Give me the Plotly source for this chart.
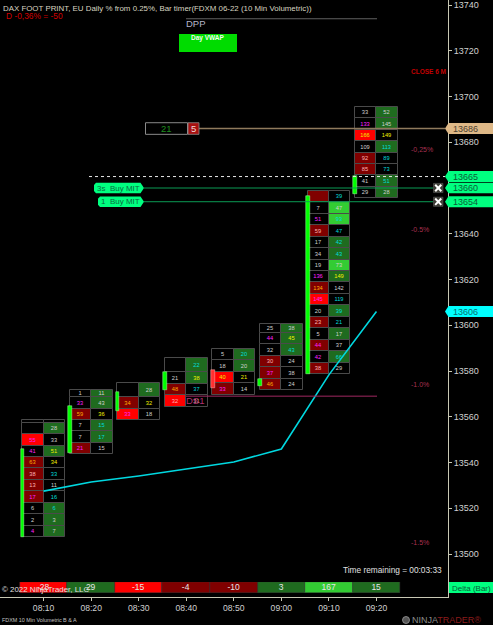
import plotly.graph_objects as go

W, H = 493, 625
FONT = "Liberation Sans"

# ---------- data ----------
TIMES = ["08:10", "08:20", "08:30", "08:40", "08:50", "09:00", "09:10", "09:20"]
PRICE_TICKS = [13500, 13520, 13540, 13560, 13580, 13600, 13620, 13640, 13660, 13680, 13700, 13720, 13740]

ROW_STEP = 5
LOWS = [13507.4, 13543.6, 13558.6, 13564.4, 13569.6, 13571.6, 13578.7, 13655.5]
HIGHS = [13558.6, 13571.7, 13574.6, 13585.6, 13589.5, 13600.5, 13658.8, 13695.3]
OPENS = [13507.4, 13544.3, 13562.5, 13571.7, 13580.4, 13573.4, 13578.7, 13657.4]
CLOSES = [13545.9, 13564.7, 13570.8, 13579.6, 13572.6, 13576.6, 13656.5, 13665.2]

BID = [
    [None, None, 55, 41, 63, 38, 13, 17, 6, 2, 4],
    [1, 33, 59, 7, 7, 21],
    [None, 34, 33],
    [None, 21, 48, 32],
    [5, 18, 40, 33],
    [25, 44, 32, 30, 37, 46],
    [None, 7, 51, 59, 17, 34, 19, 136, 134, 145, 20, 23, 5, 44, 42, 38],
    [33, 133, 166, 109, 92, 85, 41, 29],
]
ASK = [
    [None, 28, 33, 51, 34, 33, 11, 16, 6, 3, 7],
    [11, 43, 36, 15, 17, 15],
    [28, 32, 18],
    [22, 38, 37, 31],
    [20, 20, 21, 14],
    [38, 45, 43, 24, 38, 24],
    [39, 47, 93, 47, 42, 43, 73, 149, 142, 119, 39, 21, 17, 37, 66, 29],
    [52, 145, 149, 113, 89, 73, 51, 28],
]
DELTA = [-28, 29, -15, -4, -10, 3, 167, 15]
VWAP = [13527.5, 13531.5, 13534.1, 13537.2, 13540.2, 13545.9, 13578.3, 13606.0]

LEVEL_DPP = 13734
LEVEL_DS1 = 13569
LEVEL_POS = 13686
LEVEL_DOT = 13665
LEVEL_MIT3 = 13660
LEVEL_MIT1 = 13654
LEVEL_VWAP = 13606

# ---------- cell styles ----------
BID_FILL = ["nnrnddddnnn", "nndnnd", "ndr", "nndr", "nnrd", "nnnddd", "dnndnnnndrndndnd", "nnrnddnn"]
ASK_FILL = ["ngngnnnnggg", "ggnggn", "gnn", "ggnn", "ggnn", "gggnnn", "nbbnggbgnngngngn", "ggngnngg"]
BID_TEXT = ["wwmmossmwwm", "wmowwm", "wom", "wwos", "wwym", "wmwsmo", "wwmswwwmomwswmms", "wmywssww"]
ASK_TEXT = ["wwwyycwccww", "wwyccw", "wyw", "cycs", "cwyw", "wycwww", "cwccccwywcccwwcw", "wwyccccw"]
FILLS = {"n": "#000000", "d": "#800000", "r": "#ff0000", "g": "#1f6b1f", "b": "#33cc33"}
TEXTS = {"w": "#d0d0d0", "m": "#ff20ff", "o": "#ffaa00", "y": "#f0f000", "c": "#00dcdc", "s": "#ffb4b4"}

CELL_W = 0.449
CANDLE_X = -0.445
CANDLE_W = 0.08

# ---------- build ----------
cx, cy, cb, cw, cc, ct, ctc = [], [], [], [], [], [], []
for i in range(len(TIMES)):
    n = len(BID[i])
    for vals, fills, txts, off in (
        (BID[i], BID_FILL[i], BID_TEXT[i], -CELL_W / 2),
        (ASK[i], ASK_FILL[i], ASK_TEXT[i], CELL_W / 2),
    ):
        for k in range(n):
            base = LOWS[i] + (n - 1 - k) * ROW_STEP
            top = HIGHS[i] if k == 0 else base + ROW_STEP
            cx.append(i + off)
            cb.append(base)
            cy.append(top - base)
            cw.append(CELL_W)
            cc.append(FILLS[fills[k]])
            ct.append("" if vals[k] is None else str(vals[k]))
            ctc.append(TEXTS[txts[k]])

fig = go.Figure()
fig.add_trace(go.Bar(
    x=cx, y=cy, base=cb, width=cw, orientation="v",
    marker=dict(color=cc, line=dict(color="#4a4a4a", width=1)),
    text=ct, textposition="inside", insidetextanchor="middle", textangle=0,
    constraintext="none", textfont=dict(family=FONT, size=5.7, color=ctc),
    hoverinfo="skip", showlegend=False,
))
fig.add_trace(go.Bar(
    x=[i + CANDLE_X for i in range(len(TIMES))],
    y=[abs(c - o) for o, c in zip(OPENS, CLOSES)],
    base=[min(o, c) for o, c in zip(OPENS, CLOSES)],
    width=[CANDLE_W] * len(TIMES),
    marker=dict(
        color=["#00ff00" if c > o else "#ff3030" for o, c in zip(OPENS, CLOSES)],
        line=dict(color=["#a0ffa0" if c > o else "#ffb0b0" for o, c in zip(OPENS, CLOSES)], width=0.5),
    ),
    hoverinfo="skip", showlegend=False,
))
fig.add_trace(go.Scatter(
    x=list(range(len(TIMES))), y=VWAP, mode="lines",
    line=dict(color="#00d8e0", width=1.6), hoverinfo="skip", showlegend=False,
))


def delta_color(v):
    if v >= 100:
        return "#33cc33"
    if v > 0:
        return "#1f6b1f"
    return "#ff0000" if v <= -15 else "#800000"


fig.add_trace(go.Bar(
    x=list(range(len(TIMES))), y=[1] * len(TIMES), base=[0] * len(TIMES), width=[1] * len(TIMES),
    yaxis="y2",
    marker=dict(color=[delta_color(v) for v in DELTA], line=dict(color="#3a3a3a", width=0.5)),
    text=[str(v) for v in DELTA], textposition="inside", insidetextanchor="middle", textangle=0,
    constraintext="none", textfont=dict(family=FONT, size=8.5, color="#e6e6e6"),
    hoverinfo="skip", showlegend=False,
))


def px(x):
    return x / W


def py(y):
    return 1 - y / H


shapes = []
annos = []


def hline(price, x0, x1, color, width, dash="solid"):
    shapes.append(dict(type="line", xref="paper", yref="y", x0=px(x0), x1=px(x1), y0=price, y1=price,
                       line=dict(color=color, width=width, dash=dash), layer="above"))


def note(x, y, text, color, size, anchor="left", bold=False, family=FONT):
    annos.append(dict(xref="paper", yref="paper", x=px(x), y=py(y), text=f"<b>{text}</b>" if bold else text,
                      showarrow=False, xanchor=anchor, yanchor="middle", align="left",
                      font=dict(family=family, size=size, color=color), borderpad=0, borderwidth=0))


def level_note(x, price, text, color, size, anchor="left"):
    annos.append(dict(xref="paper", yref="y", x=px(x), y=price, text=text, showarrow=False,
                      xanchor=anchor, yanchor="middle", font=dict(family=FONT, size=size, color=color),
                      borderpad=0, borderwidth=0))


# horizontal levels
hline(LEVEL_DPP, 186, 377, "#606060", 1.2)
hline(LEVEL_DS1, 186, 377, "#a02860", 1)
hline(LEVEL_POS, 199, 445, "#8f7a5c", 1.5)
hline(LEVEL_DOT, 89, 445, "#e8e8e8", 1, "dot")
hline(LEVEL_MIT3, 144, 433, "#0b9b55", 1)
hline(LEVEL_MIT1, 144, 433, "#0b9b55", 1)

PPP = 2.2875  # px per price unit, only for tag heights


def tag(price, x0, x1, fill, side, half=5.6):
    h = half / PPP
    a = 3.5
    if side == "left":
        pts = [(x0 + a, price + h), (x1, price + h), (x1, price - h), (x0 + a, price - h), (x0, price)]
    else:
        pts = [(x0 + 2, price + h), (x1 - a, price + h), (x1, price), (x1 - a, price - h), (x0 + 2, price - h),
               (x0, price - h + 1), (x0, price + h - 1)]
    path = "M " + " L ".join(f"{px(p[0]):.5f} {p[1]:.3f}" for p in pts) + " Z"
    shapes.append(dict(type="path", xref="paper", yref="y", path=path, fillcolor=fill,
                       line=dict(color="rgba(0,0,0,0)", width=0.5), layer="above"))


MARKERS = [(LEVEL_POS, "#deb887", "#4b4030", 5.5), (LEVEL_DOT, "#00ff80", "#0d5a38", 5.5),
           (LEVEL_MIT3, "#00ff80", "#0d5a38", 5.2), (LEVEL_MIT1, "#00ff80", "#0d5a38", 5.5),
           (LEVEL_VWAP, "#00ffff", "#0a6a70", 5.5)]
for price, fill, txt, half in MARKERS:
    tag(price, 445, 493, fill, "left", half=half)
    level_note(453, price, str(price), txt, 9)

# MIT tags
tag(LEVEL_MIT3, 94, 144, "#00ff80", "right", half=5.3)
tag(LEVEL_MIT1, 98, 144, "#00ff80", "right", half=5.3)
level_note(97, LEVEL_MIT3, "3s  Buy MIT", "#0d6a40", 8)
level_note(101, LEVEL_MIT1, "1  Buy MIT", "#0d6a40", 8)

# position box
h = 5.8 / PPP
shapes.append(dict(type="rect", xref="paper", yref="y", x0=px(145.5), x1=px(187.5), y0=LEVEL_POS - h, y1=LEVEL_POS + h,
                   fillcolor="#000000", line=dict(color="#8a8a8a", width=1), layer="above"))
shapes.append(dict(type="rect", xref="paper", yref="y", x0=px(188), x1=px(199), y0=LEVEL_POS - h, y1=LEVEL_POS + h,
                   fillcolor="#a81010", line=dict(color="#8a8a8a", width=0.8), layer="above"))
level_note(166, LEVEL_POS, "21", "#1e8c1e", 9.5, "center")
level_note(193.5, LEVEL_POS, "5", "#f0d8d8", 9.5, "center")

# close buttons
for price in (LEVEL_MIT3, LEVEL_MIT1):
    bh = 4.6 / PPP
    shapes.append(dict(type="rect", xref="paper", yref="y", x0=px(433.5), x1=px(443), y0=price - bh, y1=price + bh,
                       fillcolor="#3c3c34", line=dict(color="#666666", width=0.5), layer="above"))
    xh = 3.2 / PPP
    for s in (1, -1):
        shapes.append(dict(type="line", xref="paper", yref="y", x0=px(435.2), x1=px(441.3),
                           y0=price - s * xh, y1=price + s * xh,
                           line=dict(color="#ffffff", width=2), layer="above"))

# Day VWAP box
shapes.append(dict(type="rect", xref="paper", yref="paper", x0=px(179), x1=px(237), y0=py(52), y1=py(34),
                   fillcolor="#00dc00", line=dict(width=0), layer="above"))
note(208, 38.5, "Day VWAP", "#f4fff4", 6.5, "center", bold=True)

# logo circle
shapes.append(dict(type="circle", xref="paper", yref="paper", x0=px(402.5), x1=px(409.5), y0=py(623.5), y1=py(616.5),
                   fillcolor="#555555", line=dict(color="#999999", width=0.8), layer="above"))

note(3, 8, "DAX FOOT PRINT, EU Daily % from 0.25%, Bar timer(FDXM 06-22 (10 Min Volumetric))", "#d8d4c0", 7.9)
note(6, 16.5, "D -0,36% = -50", "#d00000", 8.4)
note(186, 24, "DPP", "#b4b4c8", 9.5)
note(186, 400, "DS1", "#b03070", 9.5)
note(411, 71, "CLOSE 6 M", "#c00000", 6.5, bold=True)
for y, t in ((149.5, "-0,25%"), (229.5, "-0.5%"), (384.5, "-1.0%"), (542.5, "-1.5%")):
    note(411, y, t, "#a83050", 7)
note(343, 569.5, "Time remaining = 00:03:33", "#e0e0e0", 8.3)
note(2, 589, "© 2022 NinjaTrader, LLC", "#e0e0e0", 7.9)
note(2, 620, "FDXM 10 Min Volumetric B & A", "#c0c0c0", 5.4)
note(412, 620, "<span style='color:#8c8c8c'>NINJA</span><span style='color:#8a1c1c'>TRADER</span><span style='color:#8a1c1c'>®</span>", "#8c8c8c", 9)

# Delta label
shapes.append(dict(type="rect", xref="paper", yref="paper", x0=px(449), x1=px(493), y0=py(593), y1=py(582),
                   fillcolor="#00ff80", line=dict(width=0), layer="above"))
note(471, 588, "Delta (Bar)", "#0d5a38", 8, "center")

# axes: 13740 at y=5, 13500 at y=554
Y_TOP = 13500 + 554 / PPP
Y_BOT = 13500 - (597 - 554) / PPP
X_PITCH = 47.55
X_ORIGIN = 43.6

fig.update_layout(
    width=W, height=H, autosize=False, margin=dict(l=0, r=0, t=0, b=0),
    paper_bgcolor="#000000", plot_bgcolor="#000000",
    barmode="overlay", bargap=0, showlegend=False,
    shapes=shapes, annotations=annos,
    xaxis=dict(domain=[0, 448 / W], range=[-X_ORIGIN / X_PITCH, (448 - X_ORIGIN) / X_PITCH],
               tickmode="array", tickvals=list(range(len(TIMES))), ticktext=TIMES,
               ticks="outside", ticklen=3, tickcolor="#c8c8b4", tickwidth=1,
               showgrid=False, zeroline=False, showline=True, linecolor="#c8c8b4", linewidth=1,
               tickfont=dict(family=FONT, size=8.6, color="#d0d0d0"), anchor="y", fixedrange=True),
    yaxis=dict(domain=[(H - 597) / H, 1], range=[Y_BOT, Y_TOP], side="right",
               tickmode="array", tickvals=PRICE_TICKS, ticktext=[str(v) for v in PRICE_TICKS],
               ticks="outside", ticklen=3, tickcolor="#c8c8b4", tickwidth=1, ticklabeloverflow="allow",
               showgrid=False, zeroline=False, showline=True, linecolor="#c8c8b4", linewidth=1,
               tickfont=dict(family=FONT, size=9, color="#d0d0d0"), anchor="x", fixedrange=True),
    yaxis2=dict(domain=[(H - 593) / H, (H - 582) / H], range=[0, 1], visible=False, anchor="x", fixedrange=True),
)

fig.write_html("out.html", config={"displayModeBar": False},
               post_script="document.body.style.margin='0';document.body.style.overflow='hidden';document.body.style.background='#000';")
